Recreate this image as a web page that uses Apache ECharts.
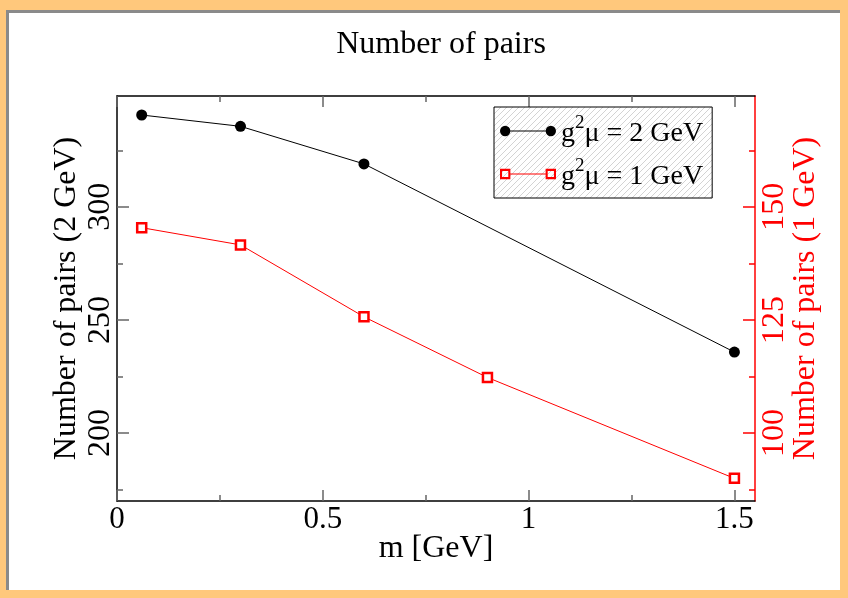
<!DOCTYPE html>
<html>
<head>
<meta charset="utf-8">
<script src="https://cdn.jsdelivr.net/npm/echarts@6/dist/echarts.min.js"></script>
<style>
html,body{margin:0;padding:0;width:848px;height:598px;overflow:hidden;background:#FFC87C;}
#frame{position:absolute;left:6px;top:10px;width:834px;height:580px;background:#fff;border-top:3px solid #8a8a8a;border-left:3px solid #8a8a8a;box-sizing:border-box;}
#chart{position:absolute;left:0;top:0;width:848px;height:598px;}
</style>
</head>
<body>
<div id="frame"></div>
<div id="chart"></div>
<script>
// ---- data ----
const title = 'Number of pairs';
const xName = 'm [GeV]';
const yLeftName = 'Number of pairs (2 GeV)';
const yRightName = 'Number of pairs (1 GeV)';
const mass2 = [0.06, 0.3, 0.6, 1.5];
const pairs2 = [340.6, 335.6, 319.0, 235.8];
const mass1 = [0.06, 0.3, 0.6, 0.9, 1.5];
const pairs1 = [145.4, 141.6, 125.7, 112.3, 90.0];
const xMajor = [0, 0.5, 1, 1.5];
const xMinor = [0.25, 0.75, 1.25];
const yLeftMajor = [200, 250, 300];
const yLeftMinor = [175, 225, 275, 325];
const yRightMajor = [100, 125, 150];
const yRightMinor = [87.5, 112.5, 137.5, 162.5];
const name2 = 'g²μ = 2 GeV';
const name1 = 'g²μ = 1 GeV';

// ---- hatch pattern ----
const pc = document.createElement('canvas');
pc.width = 6; pc.height = 6;
const g = pc.getContext('2d');
g.fillStyle = '#fff'; g.fillRect(0,0,6,6);
g.strokeStyle = '#c8c8c8'; g.lineWidth = 0.8;
g.beginPath(); g.moveTo(0,6); g.lineTo(6,0); g.moveTo(-1,1); g.lineTo(1,-1); g.moveTo(5,7); g.lineTo(7,5); g.stroke();

const FONT = 'Liberation Serif';
const RED = '#ff0000';

const circIcon = 'path://M1,6 A5,5 0 1,0 11,6 A5,5 0 1,0 1,6 Z M45,6 A5,5 0 1,0 55,6 A5,5 0 1,0 45,6 Z M11,5.5 L45,5.5 L45,6.5 L11,6.5 Z';
const sqIcon = 'path://M1,1 L11,1 L11,11 L1,11 Z M3,3 L3,9 L9,9 L9,3 Z M45,1 L55,1 L55,11 L45,11 Z M47,3 L47,9 L53,9 L53,3 Z M11,5.5 L45,5.5 L45,6.5 L11,6.5 Z';

function tickAxis(base, extra) { return Object.assign({}, base, extra); }

const xBase = {type:'value', min:0, max:1.55, splitLine:{show:false}};
const yLBase = {type:'value', min:170, max:349, splitLine:{show:false}, position:'left'};
const yRBase = {type:'value', min:85, max:174.5, splitLine:{show:false}, position:'right'};
function line(show, color){ return {show:show, onZero:false, lineStyle:{color:color, width:1.5}}; }

const chart = echarts.init(document.getElementById('chart'), null, {renderer:'canvas'});
chart.setOption({
  animation:false,
  backgroundColor:'transparent',
  title:{text:title, left:436, top:24, textAlign:'center',
    textStyle:{fontFamily:FONT, fontSize:32, fontWeight:'normal', color:'#000'}},
  grid:{left:117, top:96, right:93, bottom:97, containLabel:false},
  legend:{
    left:494, top:107, orient:'vertical', padding:[7,9,7,6], itemGap:9,
    itemWidth:56, itemHeight:12, itemStyle:{borderWidth:0},
    backgroundColor:{image:pc, repeat:'repeat'}, borderColor:'#000', borderWidth:1,
    data:[
      {name:name2, icon:circIcon, itemStyle:{color:'#000', borderWidth:0}},
      {name:name1, icon:sqIcon, itemStyle:{color:RED, borderWidth:0}}
    ],
    formatter:function(n){
      const p = n.split('²');
      return '{a|' + p[0] + '}{s|2}{a|' + p[1] + '}';
    },
    textStyle:{rich:{
      a:{fontFamily:FONT, fontSize:28, color:'#000', lineHeight:34, verticalAlign:'bottom'},
      s:{fontFamily:FONT, fontSize:19, color:'#000', lineHeight:34, verticalAlign:'top'}
    }}
  },
  xAxis:[
    tickAxis(xBase,{position:'bottom', axisLine:line(true,'#000'),
      axisTick:{show:true, inside:true, length:11, customValues:xMajor, lineStyle:{color:'#666', width:1.5}},
      axisLabel:{show:true, customValues:xMajor, margin:3, fontFamily:FONT, fontSize:31, color:'#000',
        formatter:function(v){return String(v);}},
      name:xName, nameLocation:'middle', nameGap:32, nameMoveOverlap:false,
      nameTextStyle:{fontFamily:FONT, fontSize:32, color:'#000'}}),
    tickAxis(xBase,{position:'bottom', axisLine:line(false,'#000'),
      axisTick:{show:true, inside:true, length:6, customValues:xMinor, lineStyle:{color:'#666', width:1.5}},
      axisLabel:{show:false}}),
    tickAxis(xBase,{position:'top', axisLine:line(true,'#000'),
      axisTick:{show:true, inside:true, length:11, customValues:xMajor, lineStyle:{color:'#666', width:1.5}},
      axisLabel:{show:false}}),
    tickAxis(xBase,{position:'top', axisLine:line(false,'#000'),
      axisTick:{show:true, inside:true, length:6, customValues:xMinor, lineStyle:{color:'#666', width:1.5}},
      axisLabel:{show:false}})
  ],
  yAxis:[
    tickAxis(yLBase,{axisLine:line(true,'#000'),
      axisTick:{show:true, inside:true, length:12, customValues:yLeftMajor, lineStyle:{color:'#666', width:1.5}},
      axisLabel:{show:true, customValues:yLeftMajor, rotate:90, margin:0, fontFamily:FONT, fontSize:32, color:'#000'},
      name:yLeftName, nameLocation:'middle', nameGap:34, nameRotate:90, nameMoveOverlap:false,
      nameTextStyle:{fontFamily:FONT, fontSize:32, color:'#000'}}),
    tickAxis(yLBase,{axisLine:line(false,'#000'),
      axisTick:{show:true, inside:true, length:6, customValues:yLeftMinor, lineStyle:{color:'#666', width:1.5}},
      axisLabel:{show:false}}),
    tickAxis(yRBase,{axisLine:line(true,RED),
      axisTick:{show:true, inside:true, length:12, customValues:yRightMajor, lineStyle:{color:RED, width:1.5}},
      axisLabel:{show:true, customValues:yRightMajor, rotate:90, margin:4, fontFamily:FONT, fontSize:32, color:RED},
      name:yRightName, nameLocation:'middle', nameGap:35, nameRotate:90, nameMoveOverlap:false,
      nameTextStyle:{fontFamily:FONT, fontSize:32, color:RED}}),
    tickAxis(yRBase,{axisLine:line(false,RED),
      axisTick:{show:true, inside:true, length:6, customValues:yRightMinor, lineStyle:{color:RED, width:1.5}},
      axisLabel:{show:false}})
  ],
  series:[
    {name:name2, type:'line', xAxisIndex:0, yAxisIndex:0,
      data:mass2.map(function(m,i){return [m, pairs2[i]];}),
      symbol:'circle', symbolSize:11, lineStyle:{color:'#000', width:1}, itemStyle:{color:'#000'}},
    {name:name1, type:'line', xAxisIndex:0, yAxisIndex:2,
      data:mass1.map(function(m,i){return [m, pairs1[i]];}),
      symbol:'rect', symbolSize:9, lineStyle:{color:RED, width:1},
      itemStyle:{color:'#fff', borderColor:RED, borderWidth:2.5}}
  ]
});
</script>
</body>
</html>
